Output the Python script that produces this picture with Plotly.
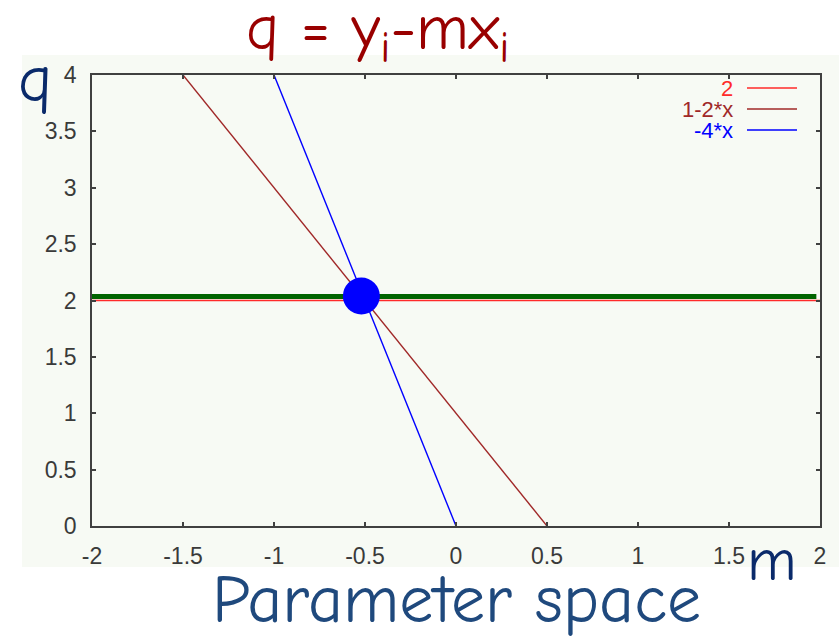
import plotly.graph_objects as go

# Points (x_i, y_i) that become lines q = y_i - m*x_i in parameter space
point_x = [0, 2, 4]
point_y = [2, 1, 0]
line_names = ["2", "1-2*x", "-4*x"]
line_colors = ["#ff2a2a", "#a02828", "#0000ff"]

m_range = [-2, 2]

# Highlighted accumulator row and the common intersection
acc_m = [-2, 1.98]
acc_q = [2.035, 2.035]
hit_m = [-0.52]
hit_q = [2.04]

x_ticks = [-2, -1.5, -1, -0.5, 0, 0.5, 1, 1.5, 2]
y_ticks = [0, 0.5, 1, 1.5, 2, 2.5, 3, 3.5, 4]

W, H = 839, 638
L, R, T, B = 92, 820, 75, 526


def px(x):
    return (x - L) / (R - L)


def py(y):
    return (B - y) / (B - T)


fig = go.Figure()

for xi, yi, name, col in zip(point_x, point_y, line_names, line_colors):
    fig.add_trace(go.Scatter(
        x=m_range, y=[yi - m * xi for m in m_range],
        mode="lines", line=dict(color=col, width=1.4), name=name,
        showlegend=False, hoverinfo="skip"))

fig.add_trace(go.Scatter(
    x=acc_m, y=acc_q, mode="lines",
    line=dict(color="#006400", width=5), showlegend=False, hoverinfo="skip"))

fig.add_trace(go.Scatter(
    x=hit_m, y=hit_q, mode="markers",
    marker=dict(color="#0000ff", size=37, line=dict(width=0)),
    showlegend=False, hoverinfo="skip"))

bg = "#f7faf4"
shapes = [dict(type="rect", xref="paper", yref="paper",
               x0=px(22), x1=px(839), y0=py(567), y1=py(55),
               fillcolor=bg, line=dict(width=0), layer="below")]

annotations = []
legend_rows = [88, 109, 130]
for name, col, yrow in zip(line_names, line_colors, legend_rows):
    annotations.append(dict(
        x=px(735), y=py(yrow), xref="paper", yref="paper", text=name,
        showarrow=False, xanchor="right", yanchor="middle",
        font=dict(family="Liberation Sans, Arial", size=22, color=col)))
    shapes.append(dict(type="line", xref="paper", yref="paper",
                       x0=px(747), x1=px(797), y0=py(yrow), y1=py(yrow),
                       line=dict(color=col, width=1.5)))

hand = "Comic Sans MS, Comic Neue, Lato, sans-serif"
annotations += [
    dict(x=px(378), y=py(32), xref="paper", yref="paper",
         text="q = y<sub>i</sub>-mx<sub>i</sub>", showarrow=False,
         xanchor="center", yanchor="middle",
         font=dict(family=hand, size=64, color="#990000")),
    dict(x=px(35), y=py(80), xref="paper", yref="paper", text="q",
         showarrow=False, xanchor="center", yanchor="middle",
         font=dict(family=hand, size=66, color="#0a2a6a")),
    dict(x=px(772), y=py(560), xref="paper", yref="paper", text="m",
         showarrow=False, xanchor="center", yanchor="middle",
         font=dict(family=hand, size=60, color="#0a2a6a")),
    dict(x=px(456), y=py(600), xref="paper", yref="paper",
         text="Parameter space", showarrow=False,
         xanchor="center", yanchor="middle",
         font=dict(family=hand, size=68, color="#1f497d")),
]

axis_common = dict(
    showgrid=False, zeroline=False, showline=True, linecolor="#404040",
    linewidth=1.5, mirror="ticks", ticks="inside", ticklen=4,
    tickcolor="#404040", tickwidth=1.5, ticklabelstandoff=9,
    tickfont=dict(family="Liberation Sans, Arial", size=23, color="#3a3a3a"))

fig.update_layout(
    width=W, height=H,
    margin=dict(l=L, r=W - R, t=T, b=H - B),
    paper_bgcolor="white", plot_bgcolor=bg,
    xaxis=dict(range=[-2, 2], tickvals=x_ticks,
               ticktext=[f"{v:g}" for v in x_ticks], **axis_common),
    yaxis=dict(range=[0, 4], tickvals=y_ticks,
               ticktext=[f"{v:g}" for v in y_ticks], **axis_common),
    shapes=shapes, annotations=annotations, showlegend=False)

fig.write_html("out.html")
